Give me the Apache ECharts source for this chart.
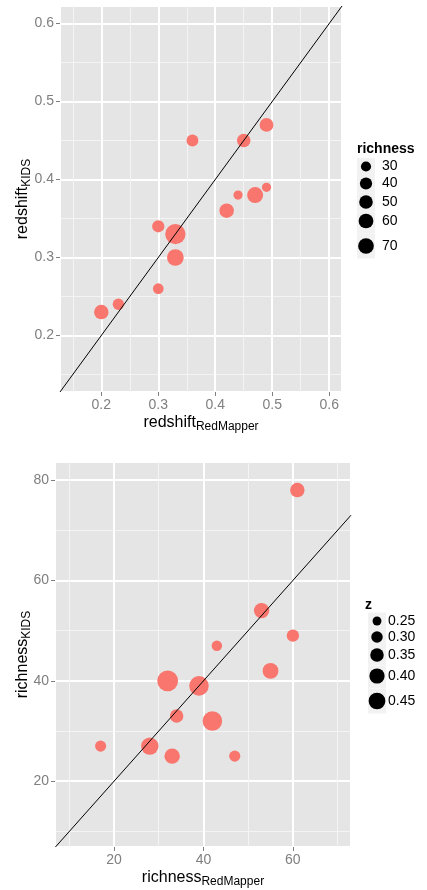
<!DOCTYPE html>
<html><head><meta charset="utf-8">
<script src="https://cdn.jsdelivr.net/npm/echarts@6/dist/echarts.min.js"></script>
<style>html,body{margin:0;padding:0;background:#fff}#c{width:427px;height:890px}</style>
</head><body><div id="c"></div>
<script>
// ---- Top panel: redshift comparison (size = richness)
const rsRedMapper = [0.20, 0.23, 0.30, 0.30, 0.33, 0.33, 0.36, 0.42, 0.44, 0.45, 0.47, 0.49, 0.49];
const rsKIDS      = [0.23, 0.24, 0.26, 0.34, 0.33, 0.30, 0.45, 0.36, 0.38, 0.45, 0.38, 0.39, 0.47];
const rsRichness  = [37, 27, 26, 29, 78, 49, 28, 37, 25, 33, 45, 25, 34];
const rsLimits    = [0.1275, 0.6225];
const rsTicks     = [0.2, 0.3, 0.4, 0.5, 0.6];
const richnessBreaks = [30, 40, 50, 60, 70];

// ---- Bottom panel: richness comparison (size = z)
const rcRedMapper = [17, 28, 33, 34, 32, 39, 42, 43, 47, 53, 55, 60, 61];
const rcKIDS      = [27, 27, 25, 33, 40, 39, 32, 47, 25, 54, 42, 49, 78];
const rcZ         = [0.26, 0.39, 0.34, 0.30, 0.49, 0.45, 0.45, 0.25, 0.26, 0.34, 0.35, 0.28, 0.32];
const rcXLimits   = [6.8, 73];
const rcYLimits   = [6.9, 83.6];
const rcXTicks    = [20, 40, 60];
const rcYTicks    = [20, 40, 60, 80];
const zBreaks     = [0.25, 0.30, 0.35, 0.40, 0.45];

const FONT = '"Liberation Sans", Arial, sans-serif';
const POINT = '#F8766D';

// size scales (legend key diameter; plotted points drawn slightly larger as in reference)
const rMin = Math.min(...rsRichness), rMax = Math.max(...rsRichness);
function richKey(v) { return 7.4 + 9.0 * Math.sqrt(Math.max(0, v - rMin) / (rMax - rMin)); }
function richPt(v) { return 1.24 * richKey(v); }
function zKey(v) { return 2.6 + 15.2 * Math.sqrt(Math.max(0, v - 0.20) / 0.29); }
function zPt(v) { return 1.17 * zKey(v); }

function axisName(main, sub) { return '{m|' + main + '}{s|' + sub + '}'; }
const nameRich = {
  m: { fontSize: 16, color: '#000', fontFamily: FONT },
  s: { fontSize: 12, color: '#000', fontFamily: FONT, padding: [9, 0, 0, 0] }
};

function inTicks(list) { return v => list.some(t => Math.abs(t - v) < 1e-9); }

function valueAxis(opt) {
  const isTick = inTicks(opt.ticks);
  return Object.assign({
    type: 'value',
    axisLine: { show: false },
    axisTick: { show: true, length: 4, lineStyle: { color: '#7F7F7F', width: 1 } },
    axisLabel: { color: '#7F7F7F', fontSize: 14, fontFamily: FONT, margin: 6,
                 showMinLabel: false, showMaxLabel: false,
                 formatter: v => isTick(v) ? opt.fmt(v) : '' },
    splitLine: { show: true, lineStyle: { color: '#FFFFFF', width: 2 } },
    minorTick: { show: false, splitNumber: 2 },
    minorSplitLine: { show: true, lineStyle: { color: '#F4F4F4', width: 1 } },
    nameLocation: 'middle',
    nameMoveOverlap: false,
    nameTextStyle: { rich: nameRich }
  }, opt.extra);
}

const f1 = v => Number(v).toFixed(1);
const f0 = v => String(Math.round(v));

const option = {
  animation: false,
  backgroundColor: '#FFFFFF',
  grid: [
    { left: 60, top: 6, width: 282, height: 386, show: true, backgroundColor: '#E5E5E5', borderWidth: 0,
      containLabel: false, outerBoundsMode: 'none' },
    { left: 55, top: 462, width: 296, height: 385, show: true, backgroundColor: '#E5E5E5', borderWidth: 0,
      containLabel: false, outerBoundsMode: 'none' }
  ],
  xAxis: [
    valueAxis({ ticks: rsTicks, fmt: f1, extra: { gridIndex: 0, min: rsLimits[0], max: rsLimits[1],
      minInterval: 0.1, maxInterval: 0.1, name: axisName('redshift', 'RedMapper'), nameGap: 20 } }),
    valueAxis({ ticks: rcXTicks, fmt: f0, extra: { gridIndex: 1, min: rcXLimits[0], max: rcXLimits[1],
      minInterval: 20, maxInterval: 20, name: axisName('richness', 'RedMapper'), nameGap: 20 } })
  ],
  yAxis: [
    valueAxis({ ticks: rsTicks, fmt: f1, extra: { gridIndex: 0, min: rsLimits[0], max: rsLimits[1],
      minInterval: 0.1, maxInterval: 0.1, name: axisName('redshift', 'KIDS'), nameGap: 27,
      nameRotate: 90 } }),
    valueAxis({ ticks: rcYTicks, fmt: f0, extra: { gridIndex: 1, min: rcYLimits[0], max: rcYLimits[1],
      minInterval: 20, maxInterval: 20, name: axisName('richness', 'KIDS'), nameGap: 22,
      nameRotate: 90 } })
  ],
  series: [
    {
      type: 'scatter', xAxisIndex: 0, yAxisIndex: 0, z: 2,
      data: rsRedMapper.map((x, i) => [x, rsKIDS[i], rsRichness[i]]),
      symbol: 'circle', symbolSize: d => richPt(d[2]),
      itemStyle: { color: POINT, opacity: 1 }, emphasis: { disabled: true }
    },
    {
      type: 'line', xAxisIndex: 0, yAxisIndex: 0, z: 3, clip: true, symbol: 'none',
      data: [[rsLimits[0], rsLimits[0]], [rsLimits[1], rsLimits[1]]],
      lineStyle: { color: '#000', width: 1 }, emphasis: { disabled: true }
    },
    {
      type: 'scatter', xAxisIndex: 1, yAxisIndex: 1, z: 2,
      data: rcRedMapper.map((x, i) => [x, rcKIDS[i], rcZ[i]]),
      symbol: 'circle', symbolSize: d => zPt(d[2]),
      itemStyle: { color: POINT, opacity: 1 }, emphasis: { disabled: true }
    },
    {
      type: 'line', xAxisIndex: 1, yAxisIndex: 1, z: 3, clip: true, symbol: 'none',
      data: [[Math.max(rcXLimits[0], rcYLimits[0]), Math.max(rcXLimits[0], rcYLimits[0])],
             [Math.min(rcXLimits[1], rcYLimits[1]), Math.min(rcXLimits[1], rcYLimits[1])]],
      lineStyle: { color: '#000', width: 1 }, emphasis: { disabled: true }
    }
  ],
  graphic: []
};

// legends (layout positions)
function buildLegend(title, breaks, sizeFn, fmt, lay) {
  const els = [];
  els.push({ type: 'text', left: lay.titleX, top: lay.titleY - 8,
    style: { text: title, fontSize: 14, fontWeight: 'bold', fontFamily: FONT, fill: '#000' } });
  const cs = lay.centers;
  for (let i = 0; i < breaks.length; i++) {
    const top = i === 0 ? cs[0] - 8.5 : (cs[i - 1] + cs[i]) / 2;
    const bot = i === breaks.length - 1 ? cs[i] + (cs[i] - cs[i - 1]) / 2 : (cs[i] + cs[i + 1]) / 2;
    els.push({ type: 'rect', shape: { x: lay.keyX - 9, y: top, width: 18, height: bot - top },
      style: { fill: '#F2F2F2' }, z: 1 });
    els.push({ type: 'circle', shape: { cx: lay.keyX, cy: cs[i], r: sizeFn(breaks[i]) / 2 },
      style: { fill: '#000' }, z: 2 });
    els.push({ type: 'text', x: lay.labelX, y: cs[i], z: 2,
      style: { text: fmt(breaks[i]), fontSize: 14, fontFamily: FONT, fill: '#000', verticalAlign: 'middle' } });
  }
  return els;
}
option.graphic = option.graphic.concat(
  buildLegend('richness', richnessBreaks, richKey, f0,
    { titleX: 357, titleY: 150, keyX: 366, labelX: 382, centers: [166.5, 183.5, 202, 221, 246] }),
  buildLegend('z', zBreaks, zKey, v => v.toFixed(2),
    { titleX: 365, titleY: 606, keyX: 377, labelX: 388, centers: [621, 637, 655, 676, 701] })
);

const chart = echarts.init(document.getElementById('c'), null, { renderer: 'canvas' });
chart.setOption(option);
</script>
</body></html>
